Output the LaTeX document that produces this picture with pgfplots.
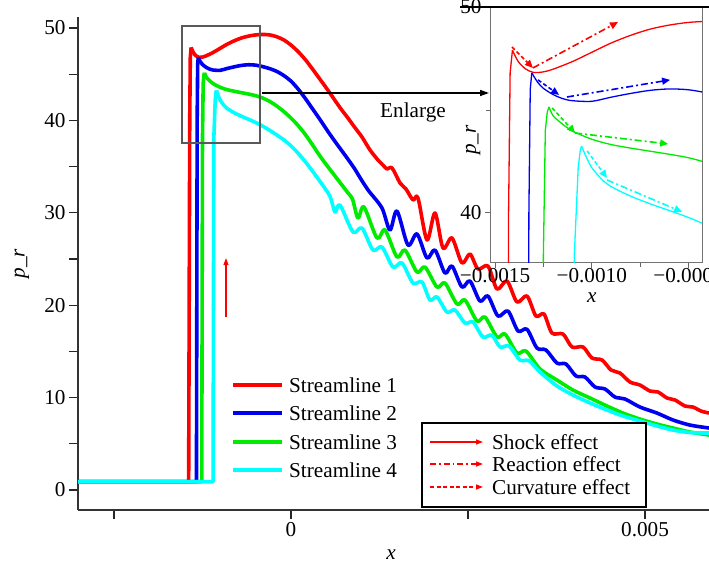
\documentclass[border=0pt]{standalone}
\usepackage{pgfplots}
\pgfplotsset{compat=1.18}
\usepackage{pgfplotstable}
\usepackage{fontspec}
\setmainfont{Liberation Serif}
\usetikzlibrary{arrows.meta}
\definecolor{cR}{RGB}{255,0,0}
\definecolor{cB}{RGB}{0,0,240}
\definecolor{cG}{RGB}{0,235,0}
\definecolor{cC}{RGB}{0,255,255}
\newcommand{\fs}{\fontsize{21.2}{24}\selectfont}

\pgfplotstableread{
x y
-0.0031 0.9
-0.001445 0.9
-0.00143 40
-0.001422 46.8
-0.00141 47.9
}\redA
\pgfplotstableread{
x y
-0.00141 47.9
-0.00138 47.35
-0.00134 46.98
-0.0013 46.82
-0.00125 46.85
-0.0012 46.98
-0.0011 47.35
-0.001 47.8
-0.0009 48.25
-0.0008 48.62
-0.0007 48.92
-0.0006 49.12
-0.0005 49.25
-0.0004 49.3
-0.0003 49.25
-0.0002 49.05
-0.0001 48.7
0 48.15
0.0001 47.45
0.0002 46.6
0.0003 45.6
0.0004 44.55
0.0005 43.5
0.0006 42.4
0.0007 41.3
0.0008 40.3
0.0009 39.25
0.001003 38.2
0.001116 36.8
0.001229 35.71
0.001299 35.17
0.001356 34.74
0.001427 34.85
0.00154 33.23
0.001624 32.58
0.001723 31.39
0.001794 31.6
0.001921 27.06
0.002034 29.98
0.002147 26.19
0.002274 27.27
0.002415 24.57
0.002528 25.54
0.002641 23.92
0.002782 24.24
0.00291 21.75
0.003051 22.62
0.003192 20.35
0.003333 21.0
0.00346 18.83
0.003573 19.05
0.003686 16.99
0.003842 16.88
0.003969 15.48
0.004124 15.48
0.004251 14.29
0.004393 14.07
0.00452 12.99
0.004647 12.66
0.004788 11.69
0.004929 11.36
0.005071 10.71
0.005183 10.61
0.005311 9.96
0.005424 9.74
0.005565 9.09
0.005678 8.98
0.005791 8.55
0.005904 8.33
}\redB
\pgfplotstableread{
x y
-0.0031 0.9
-0.001335 0.9
-0.001325 40
-0.001318 46.0
-0.00131 46.8
}\blueA
\pgfplotstableread{
x y
-0.00131 46.8
-0.00128 46.35
-0.00125 46.05
-0.0012 45.75
-0.00115 45.55
-0.0011 45.45
-0.001 45.42
-0.0009 45.62
-0.0008 45.8
-0.0007 45.95
-0.0006 46.02
-0.0005 45.98
-0.0004 45.82
-0.0003 45.6
-0.0002 45.3
-0.0001 44.85
0 44.25
0.0001 43.4
0.0002 42.4
0.0003 41.3
0.0004 40.2
0.0005 39.05
0.0006 37.95
0.0007 36.9
0.0008 35.85
0.0009 34.75
0.001 33.5
0.0011 32.35
0.001285 30.52
0.001398 28.14
0.001497 30.19
0.001652 26.52
0.00178 27.71
0.001921 25.11
0.002034 25.97
0.002175 23.48
0.002274 24.24
0.002415 21.97
0.002528 22.62
0.002669 20.45
0.002782 21.0
0.002924 18.83
0.003065 19.37
0.003206 17.21
0.003333 17.4
0.003474 15.37
0.003602 15.15
0.003757 13.74
0.003884 13.64
0.004025 12.34
0.004152 12.23
0.004294 11.15
0.004435 10.93
0.004576 10.06
0.004717 9.85
0.004929 8.98
0.005169 8.33
0.005395 7.58
0.005635 7.03
0.005904 6.71
}\blueB
\pgfplotstableread{
x y
-0.0031 0.9
-0.00126 0.9
-0.00125 38
-0.00124 44.0
-0.00123 44.9
-0.001221 45.15
}\greenA
\pgfplotstableread{
x y
-0.001221 45.15
-0.0012 44.72
-0.00116 44.38
-0.0011 43.98
-0.001 43.58
-0.0009 43.32
-0.0008 43.15
-0.0007 43.0
-0.0006 42.85
-0.0005 42.68
-0.0004 42.42
-0.0003 42.05
-0.0002 41.55
-0.0001 40.95
0 40.25
0.0001 39.45
0.0002 38.5
0.0003 37.4
0.0004 36.25
0.0005 35.2
0.0006 34.2
0.0007 33.2
0.0008 32.2
0.00087 31.45
0.000946 29.44
0.001031 30.63
0.001215 27.27
0.001328 28.14
0.001497 25.22
0.00161 25.97
0.00178 23.59
0.001893 24.13
0.002062 21.97
0.002175 22.4
0.002345 20.13
0.002458 20.56
0.002627 18.29
0.00274 18.72
0.00291 16.56
0.003023 16.88
0.003192 14.83
0.003319 15.04
0.003517 13.1
0.003757 11.9
0.003983 10.82
0.004223 9.96
0.004463 9.09
0.004689 8.33
0.004929 7.68
0.005169 7.14
0.005395 6.71
0.005635 6.28
0.005904 5.95
}\greenB
\pgfplotstableread{
x y
-0.0031 0.9
-0.0011 0.9
-0.00109 38
-0.00107 42.2
-0.00106 43.0
-0.001053 43.25
}\cyanA
\pgfplotstableread{
x y
-0.001053 43.25
-0.00103 42.75
-0.001 42.2
-0.00095 41.65
-0.0009 41.28
-0.0008 40.82
-0.0007 40.45
-0.0006 40.12
-0.0005 39.78
-0.0004 39.38
-0.0003 38.92
-0.0002 38.42
-0.0001 37.88
0 37.25
0.0001 36.45
0.0002 35.55
0.0003 34.55
0.0004 33.5
0.00055 31.8
0.000621 30.09
0.000692 30.84
0.000876 27.92
0.001003 28.35
0.001158 25.97
0.001285 26.3
0.001441 24.13
0.001568 24.57
0.001723 22.4
0.00185 22.51
0.001963 20.56
0.002062 20.89
0.002203 19.26
0.002316 19.48
0.002458 18.07
0.002571 18.18
0.002712 16.56
0.002839 16.77
0.002952 15.48
0.003079 15.58
0.003234 14.07
0.003361 14.0
0.003517 12.77
0.003757 11.26
0.003983 10.28
0.004223 9.42
0.004463 8.66
0.004689 8.01
0.004929 7.47
0.005169 6.93
0.005395 6.49
0.005635 6.22
0.005904 6.17
}\cyanB

\begin{document}
\begin{tikzpicture}[x=1pt,y=1pt]
\useasboundingbox (0,0) rectangle (709,570);
% ---------------- main axis ----------------
\begin{axis}[
  at={(78pt,60pt)}, anchor=south west,
  scale only axis, width=631pt, height=493pt,
  xmin=-0.003008, xmax=0.005904, ymin=-2.16, ymax=51.19,
  axis x line*=bottom, axis y line*=left,
  axis line style={black!80, line width=1.4pt},
  every tick/.style={black!85, line width=1.3pt},
  tick align=outside, major tick length=9pt, minor tick length=9pt,
  xtick={-0.0025,0,0.0025,0.005}, xticklabels={,0,,0.005},
  scaled x ticks=false, scaled y ticks=false,
  ytick={0,10,20,30,40,50}, yticklabels={0,10,20,30,40,50},
  minor ytick={5,15,25,35,45},
  tick label style={font=\fs},
  label style={font=\fs},
  xlabel={\textit{x}}, ylabel={\textit{p\_r}},
  xlabel style={at={(axis description cs:0.496,-0.09)}, anchor=center},
  ylabel style={at={(axis description cs:-0.089,0.5)}, anchor=center, rotate=0},
  clip=true,
]
\addplot[cR, line width=3.6pt, line join=round, forget plot] table {\redA};
\addplot[cR, line width=3.6pt, smooth, tension=0.5, line join=round] table {\redB};
\addplot[cB, line width=3.6pt, line join=round, forget plot] table {\blueA};
\addplot[cB, line width=3.6pt, smooth, tension=0.5, line join=round] table {\blueB};
\addplot[cG, line width=3.6pt, line join=round, forget plot] table {\greenA};
\addplot[cG, line width=3.6pt, smooth, tension=0.5, line join=round] table {\greenB};
\addplot[cC, line width=3.6pt, line join=round, forget plot] table {\cyanA};
\addplot[cC, line width=3.6pt, smooth, tension=0.5, line join=round] table {\cyanB};
\draw[black!65, line width=1.6pt] (axis cs:-0.00154,50.2) rectangle (axis cs:-0.000438,37.55);
\draw[cR, line width=1.1pt, -{Triangle[length=7pt,width=5pt]}] (axis cs:-0.000918,18.7) -- (axis cs:-0.000918,25.1);
\end{axis}
% Enlarge arrow
\draw[black, line width=1.5pt, -{Triangle[length=9pt,width=6pt]}] (262,477) -- (489,477);
\node[font=\fs] at (413,458) {Enlarge};
% legend 1
\foreach \c/\yy/\t in {cR/185/1, cB/157/2, cG/128/3, cC/100/4}{
  \draw[\c, line width=4pt] (233,\yy) -- (282,\yy);
  \node[font=\fs, anchor=west, inner sep=0pt] at (289,\yy) {Streamline \t};
}
% legend 2
\draw[black, line width=1.1pt, fill=white] (422,147) rectangle (646,63);
\draw[cR, line width=1.3pt, -{Triangle[length=7pt,width=5pt]}] (430,128) -- (483,128);
\draw[cR, line width=1.3pt, dash pattern=on 6pt off 3pt on 1.5pt off 3pt, -{Triangle[length=7pt,width=5pt]}] (430,106) -- (483,106);
\draw[cR, line width=1.3pt, dash pattern=on 4pt off 2.5pt, -{Triangle[length=7pt,width=5pt]}] (430,83) -- (483,83);
\node[font=\fs, anchor=west, inner sep=0pt] at (492,128) {Shock effect};
\node[font=\fs, anchor=west, inner sep=0pt] at (492,106) {Reaction effect};
\node[font=\fs, anchor=west, inner sep=0pt] at (492,83) {Curvature effect};
% ---------------- inset ----------------
\begin{axis}[
  at={(490pt,307pt)}, anchor=south west,
  scale only axis, width=212pt, height=256pt,
  xmin=-0.001526, xmax=-0.00043, ymin=37.57, ymax=50,
  axis background/.style={fill=white},
  axis line style={black!55, line width=1pt},
  every tick/.style={black!60, line width=0.9pt},
  tick align=outside, major tick length=5pt, minor tick length=4pt,
  xtick pos=left, ytick pos=left,
  xtick={-0.0015,-0.001,-0.0005}, xticklabels={−0.0015,−0.0010,−0.0005},
  minor xtick={-0.00125,-0.00075},
  scaled x ticks=false, scaled y ticks=false,
  ytick={40,50}, yticklabels={40,50}, minor ytick={45},
  tick label style={font=\fs},
  xticklabel style={yshift=3pt},
  label style={font=\fs},
  xlabel={\textit{x}}, ylabel={\textit{p\_r}},
  xlabel style={at={(axis description cs:0.48,-0.135)}, anchor=center},
  ylabel style={at={(axis description cs:-0.08,0.48)}, anchor=center},
  clip=true,
]
\addplot[cR, line width=1.3pt] table {\redA};
\addplot[cR, line width=1.3pt, smooth, tension=0.5] table {\redB};
\addplot[cB, line width=1.3pt] table {\blueA};
\addplot[cB, line width=1.3pt, smooth, tension=0.5] table {\blueB};
\addplot[cG, line width=1.3pt] table {\greenA};
\addplot[cG, line width=1.3pt, smooth, tension=0.5] table {\greenB};
\addplot[cC, line width=1.3pt] table {\cyanA};
\addplot[cC, line width=1.3pt, smooth, tension=0.5] table {\cyanB};
% effect arrows
\tikzset{dd/.style={line width=1.6pt, dash pattern=on 4pt off 2.5pt, -{Triangle[length=8pt,width=7pt]}},
         dt/.style={line width=1.6pt, dash pattern=on 7pt off 3pt on 2pt off 3pt, -{Triangle[length=8pt,width=7pt]}}}
\draw[cR, dd] (axis cs:-0.001412,48.06) -- (axis cs:-0.001304,47.04);
\draw[cR, dt] (axis cs:-0.001304,47.04) -- (axis cs:-0.000864,49.27);
\draw[cB, dd] (axis cs:-0.001278,46.46) -- (axis cs:-0.001169,45.73);
\draw[cB, dt] (axis cs:-0.001128,45.63) -- (axis cs:-0.000595,46.46);
\draw[cG, dd] (axis cs:-0.001205,45.10) -- (axis cs:-0.001086,43.88);
\draw[cG, dt] (axis cs:-0.001086,43.88) -- (axis cs:-0.000605,43.35);
\draw[cC, dd] (axis cs:-0.001024,43.01) -- (axis cs:-0.000921,41.70);
\draw[cC, dt] (axis cs:-0.000921,41.6) -- (axis cs:-0.000533,40.05);
\end{axis}
\draw[black, line width=2pt] (460,563) -- (709,563);
\end{tikzpicture}
\end{document}
